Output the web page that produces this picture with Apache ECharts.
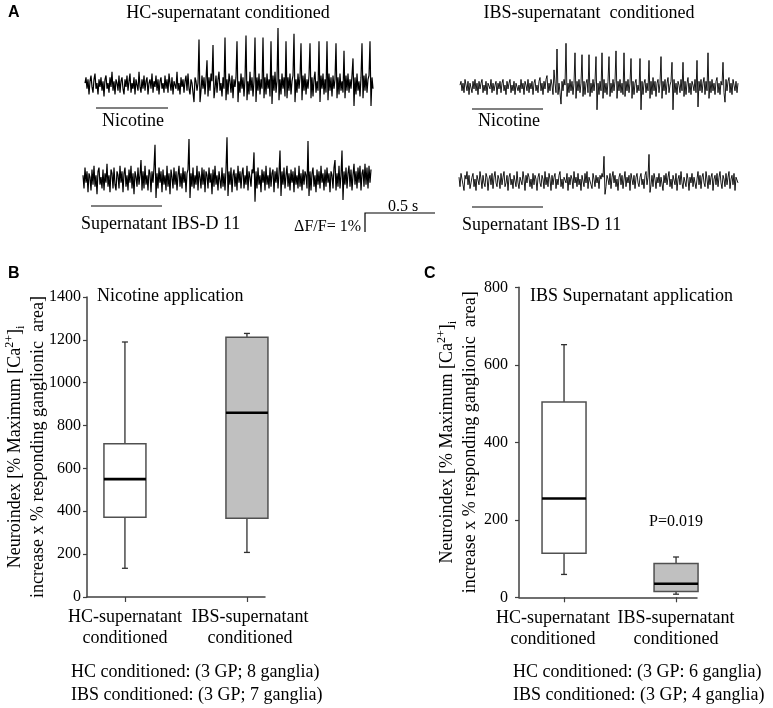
<!DOCTYPE html>
<html><head><meta charset="utf-8">
<script src="https://cdn.jsdelivr.net/npm/echarts@6/dist/echarts.min.js"></script>
<style>html,body{margin:0;padding:0;background:#fff}#c{width:773px;height:708px}</style>
</head><body><div id="c"></div>
<script>
// ---------- Panel A: calcium traces (% dF/F, one value per sample) ----------
const traceHcNicotine = [
 0.1,0.4,-0.2,0.3,-0.5,0.2,0.5,-0.1,-0.4,0.3,0.6,-0.2,0.1,-0.5,0.3,-0.1,0.4,-0.3,0.2,-0.6,
 0.3,0.5,-0.2,0.1,-0.4,0.4,-0.1,0.7,-0.3,0.2,-0.5,0.3,0.1,-0.3,0.5,-0.4,0.2,0.4,-0.2,-0.5,
 0.3,-0.1,0.5,-0.3,0.2,0.6,-0.4,0.1,-0.2,0.4,-0.5,0.3,0.2,-0.3,0.7,-0.1,-0.4,0.3,-0.2,0.5,
 -0.3,0.2,0.4,-0.5,0.1,0.3,-0.2,0.6,-0.4,0.2,-0.1,0.5,-0.3,0.3,-0.5,0.2,0.4,-0.2,0.1,-0.4,
 0.5,-0.2,0.3,-0.4,0.6,0.1,-0.3,0.4,-0.5,0.2,0.3,-0.2,0.7,-0.3,0.1,-0.5,0.4,-0.1,0.3,-0.4,
 0.2,0.5,-0.3,0.6,-0.2,-0.5,0.3,0.1,-0.4,-0.9,0.4,0.2,-0.3,0.1,2.4,-0.9,-0.3,0.5,-0.2,0.4,
 -0.5,0.3,1.3,-0.6,0.4,-0.3,0.6,0.2,2.1,-0.7,-0.2,0.5,-0.4,0.3,0.7,-0.3,0.1,-0.6,0.4,-0.2,
 2.5,-0.8,0.3,-0.5,0.6,0.2,-0.4,0.5,-0.7,0.3,-0.1,0.4,2.3,-0.9,0.2,-0.4,0.6,-0.2,0.4,-0.6,
 0.3,2.6,-0.8,0.2,-0.5,0.7,-0.3,0.4,-0.6,0.2,2.5,-0.9,0.4,-0.3,0.6,-0.5,0.3,-0.2,2.5,-0.7,
 0.4,-0.5,0.6,-0.2,0.3,-0.6,2.3,-1.0,0.5,-0.3,0.7,-0.4,0.2,3.0,-0.8,0.3,-0.5,0.6,-0.2,0.4,
 -0.6,2.3,-0.7,0.4,-0.3,0.6,-0.5,0.2,0.5,2.7,-0.9,0.3,-0.4,0.6,-0.2,0.4,2.2,-0.8,0.5,-0.3,
 0.6,-0.5,0.3,-0.2,0.5,2.2,-0.7,0.4,-0.6,0.3,0.7,-0.4,0.2,-0.3,2.3,-0.9,0.5,-0.2,0.6,-0.5,
 0.3,-0.4,2.3,-0.8,0.6,-0.3,0.4,-0.6,0.5,-0.2,0.3,2.2,-0.7,0.4,-0.5,0.6,-0.3,0.2,-0.4,1.8,
 -0.7,0.5,-0.3,0.6,-0.4,0.3,-0.2,0.5,1.4,-1.1,0.4,-0.5,0.6,-0.3,0.2,-0.6,0.4,2.2,-0.7,0.5,
 -0.3,0.6,-0.4,0.3,0.5,2.3,-1.1,0.4,-0.2
];
const traceHcSupernatant = [
 0.2,-0.5,0.6,-0.2,0.4,-0.7,0.3,0.1,-0.6,0.5,-0.3,0.7,-0.4,0.2,-0.8,0.4,0.6,-0.3,0.1,-0.5,
 0.5,-0.6,0.3,-0.2,0.8,-0.4,0.2,-0.7,0.5,0.3,-0.5,0.6,-0.3,-0.6,0.4,0.2,-0.5,0.7,-0.2,0.4,
 -0.7,0.3,0.6,-0.4,0.2,-0.6,0.5,-0.2,0.7,-0.5,0.3,-0.8,0.4,0.1,-0.4,0.6,-0.3,0.2,1.0,-0.6,
 0.4,-0.5,0.7,-0.3,0.2,-0.6,0.5,0.3,-0.7,0.4,-0.2,0.6,1.8,-1.0,0.3,-0.5,0.6,-0.2,0.4,-0.7,
 0.5,-0.3,0.2,-0.6,0.7,-0.4,0.3,-0.8,0.5,0.1,-0.5,0.6,-0.3,0.4,-0.6,0.2,0.7,-0.4,0.3,-0.5,
 0.6,-0.2,0.4,-0.7,0.3,0.5,2.1,-1.0,0.3,-0.4,0.6,-0.5,0.2,-0.3,0.7,-0.6,0.4,0.1,-0.5,0.6,
 -0.3,0.5,-0.7,0.4,0.2,-0.5,0.6,-0.2,0.3,-0.8,0.5,-0.4,0.7,-0.3,0.2,-0.6,0.4,0.3,-0.5,0.6,
 -0.4,0.3,-0.6,0.5,2.2,-0.9,0.4,-0.3,0.6,-0.7,0.2,0.5,-0.4,0.3,-0.6,0.7,-0.2,0.4,-0.5,0.3,
 0.6,-0.5,0.2,-0.3,0.7,-0.6,0.4,0.1,-0.4,0.5,0.3,1.4,-1.2,0.4,-0.5,0.6,-0.3,0.2,-0.7,0.5,
 -0.2,0.4,-0.6,0.7,-0.3,0.2,-0.5,0.6,-0.4,0.3,0.5,-0.7,0.4,-0.2,0.6,-0.5,0.3,1.5,-0.9,0.4,
 -0.3,0.6,-0.5,0.2,0.7,-0.4,0.3,-0.6,0.5,-0.2,0.4,-0.7,0.6,-0.3,0.2,-0.5,0.7,-0.4,0.3,-0.6,
 0.5,-0.3,0.4,0.2,-0.5,2.0,-0.9,0.4,-0.6,0.3,0.6,-0.4,0.2,-0.7,0.5,-0.3,0.4,-0.5,0.7,-0.2,
 0.3,-0.6,0.5,-0.4,0.6,-0.2,0.3,-0.7,0.4,0.2,-0.5,0.6,1.0,-0.6,0.3,-0.4,0.7,-0.5,0.2,1.5,
 -1.1,0.4,-0.3,0.6,-0.5,0.3,0.7,-0.4,0.5,-0.6,0.2,0.8,-0.3,0.4,-0.5,0.6,-0.2,0.7,-0.6,0.3,
 0.5,-0.4,0.8,-0.3,0.6,-0.5,0.7,-0.2,0.5
];
const traceIbsNicotine = [
 0.1,0.3,-0.2,0.2,-0.3,0.4,0.1,-0.2,0.3,-0.4,0.2,0.1,-0.3,0.3,-0.1,0.4,-0.2,0.2,-0.4,0.3,
 -0.1,0.2,0.4,-0.3,0.1,-0.2,0.3,-0.4,0.2,0.3,-0.1,0.4,-0.3,0.2,-0.2,0.1,0.3,-0.4,0.2,-0.1,
 0.3,-0.3,0.2,0.4,-0.2,0.1,-0.4,0.3,-0.1,0.2,0.4,-0.3,0.1,-0.2,0.3,-0.4,0.2,0.3,-0.2,0.1,
 -0.3,0.4,-0.1,0.2,-0.4,0.3,0.1,-0.2,0.4,-0.3,0.2,-0.1,0.3,-0.4,0.2,0.4,-0.2,0.1,-0.3,0.3,
 0.5,-0.2,0.2,-0.4,0.3,-0.1,0.4,0.6,-0.3,0.2,-0.2,0.4,0.1,-0.4,0.9,0.2,-0.3,2.0,-0.4,0.2,
 -0.3,-0.9,0.3,-0.2,0.4,0.1,2.3,-0.5,0.2,-0.3,0.4,-0.2,0.3,-0.4,0.2,1.8,-0.6,0.3,-0.2,0.4,
 -0.3,0.2,1.7,-0.5,0.3,-0.4,0.2,0.4,-0.3,1.7,-0.5,0.2,-0.3,0.4,-0.2,0.3,1.6,-1.2,0.2,-0.4,
 0.3,-0.2,1.8,-0.6,0.4,-0.3,0.2,-0.4,0.3,1.6,-0.5,0.2,-0.3,0.4,-0.2,0.3,1.9,-0.6,0.3,-0.2,
 0.4,-0.3,0.2,-0.4,1.8,-0.5,0.3,-0.2,0.4,-0.3,0.2,1.5,-0.6,0.3,-0.4,0.2,0.4,-0.3,0.1,-0.2,
 1.5,-1.2,0.3,-0.4,0.2,0.4,-0.3,0.2,-0.2,1.4,-0.6,0.3,-0.4,0.5,-0.2,0.3,-0.5,0.2,0.4,-0.3,
 0.2,1.6,-0.6,0.3,-0.2,0.4,-0.4,0.2,0.5,-0.3,0.1,0.3,1.3,-1.2,0.4,-0.3,0.2,-0.4,0.3,0.1,
 -0.3,0.4,-0.2,1.3,-0.5,0.3,-0.4,0.2,0.5,-0.3,0.2,-0.4,0.3,0.1,-0.2,0.4,-0.3,1.4,-1.05,0.3,
 -0.2,0.4,-0.3,0.2,0.5,-0.4,0.3,-0.2,1.8,-0.6,0.3,-0.3,0.4,-0.2,0.2,-0.4,0.3,0.5,-0.3,0.2,
 -0.4,0.3,0.1,1.3,-0.3,-0.8,0.4,-0.2,0.3,0.5,-0.3,0.2,-0.4,0.4,0.1,-0.2,0.3,-0.3,0.2
];
const traceIbsSupernatant = [
 0.2,-0.3,0.4,0.1,-0.2,-0.5,0.3,0.1,0.5,-0.2,0.3,-0.4,-0.1,0.2,0.4,-0.3,0.1,-0.5,0.3,0.2,
 -0.2,0.5,0.1,-0.4,0.3,-0.1,-0.3,0.4,0.2,-0.5,0.1,0.3,-0.2,0.4,-0.4,0.2,0.5,-0.1,-0.3,0.3,
 0.1,-0.4,0.4,-0.2,0.2,0.5,-0.3,-0.1,0.3,-0.5,0.2,0.4,-0.2,0.1,-0.4,0.3,0.2,-0.3,0.5,-0.1,
 -0.4,0.2,0.3,-0.2,0.5,0.1,-0.5,0.3,-0.1,0.4,0.2,-0.3,0.1,-0.4,0.4,-0.2,0.3,0.1,-0.5,0.2,
 0.4,-0.1,-0.3,0.3,0.1,-0.4,0.5,-0.2,0.2,-0.3,0.4,0.1,-0.5,0.3,-0.2,0.2,0.4,-0.4,0.1,-0.2,
 0.3,0.5,-0.3,0.1,-0.4,0.2,0.3,-0.1,0.4,-0.5,0.2,-0.2,0.3,0.1,-0.4,0.5,-0.1,0.2,-0.3,0.4,
 -0.2,0.1,-0.5,0.3,0.2,-0.3,0.4,-0.1,0.5,-0.4,0.2,0.3,-0.2,-0.4,0.4,0.1,-0.3,0.3,-0.1,0.2,
 -0.4,0.3,0.1,0.4,0.2,1.3,-0.7,-0.3,0.3,0.1,-0.2,0.4,-0.4,0.2,0.5,-0.1,0.3,-0.3,0.1,-0.5,
 0.2,0.4,-0.2,0.3,-0.4,0.1,0.5,-0.3,0.2,-0.1,0.3,-0.5,0.4,0.1,-0.2,0.3,-0.4,0.2,0.4,-0.1,
 -0.3,0.2,0.4,-0.2,0.1,-0.4,0.3,0.5,-0.2,0.2,1.4,-0.6,-0.2,0.3,-0.3,0.4,0.1,-0.4,0.2,-0.1,
 0.4,-0.3,0.2,0.1,-0.5,0.3,-0.1,0.4,-0.2,0.2,0.5,-0.3,0.1,-0.4,0.3,0.2,-0.2,0.4,-0.5,0.1,
 0.3,-0.2,0.5,-0.1,-0.4,0.2,0.3,-0.3,0.4,0.1,-0.5,0.2,-0.1,0.4,-0.3,0.2,0.3,-0.4,0.1,0.5,
 -0.2,0.3,-0.4,0.2,0.4,-0.1,-0.3,0.5,0.1,-0.4,0.3,-0.2,0.2,0.4,-0.5,0.1,0.3,-0.2,0.4,-0.3,
 0.2,0.5,-0.1,-0.4,0.3,0.1,-0.3,0.4,-0.2,0.2,0.5,-0.4,0.1,0.3,-0.2,0.4,-0.5,0.2,0.3,-0.1
];
// stimulus application windows (sample index start, end)
const stimHcNicotine = [11, 83];
const stimHcSupernatant = [8, 79];
const stimIbsNicotine = [12, 83];
const stimIbsSupernatant = [13, 84];

// ---------- Panel B / C: box plots ----------
const categories = ['HC-supernatant\nconditioned', 'IBS-supernatant\nconditioned'];
const yTicksB = [0, 200, 400, 600, 800, 1000, 1200, 1400];
const nicMin = [134, 208];
const nicQ1 = [372, 367];
const nicMedian = [550, 860];
const nicQ3 = [715, 1212];
const nicMax = [1190, 1230];
const yTicksC = [0, 200, 400, 600, 800];
const ibsMin = [59, 8];
const ibsQ1 = [114, 15];
const ibsMedian = [255, 35];
const ibsQ3 = [504, 87];
const ibsMax = [652, 104];

const SERIF = 'Liberation Serif';
const SANS = 'Liberation Sans';
const chart = echarts.init(document.getElementById('c'));

const PX_PER_PCT = 19;
const traces = [
  {data: traceHcNicotine, stim: stimHcNicotine, left: 85, base: 85, stimDrop: 23, lw: 1.2},
  {data: traceHcSupernatant, stim: stimHcSupernatant, left: 83, base: 179, stimDrop: 27, lw: 1.2},
  {data: traceIbsNicotine, stim: stimIbsNicotine, left: 460, base: 87, stimDrop: 22, lw: 0.9},
  {data: traceIbsSupernatant, stim: stimIbsSupernatant, left: 459, base: 181, stimDrop: 26, lw: 0.9}
];
const Y_MIN = -1.5, Y_MAX = 3.5;
const grids = [], xAxes = [], yAxes = [], series = [];
traces.forEach((t, i) => {
  const n = t.data.length;
  grids.push({left: t.left, top: t.base - Y_MAX * PX_PER_PCT, width: n - 1, height: (Y_MAX - Y_MIN) * PX_PER_PCT});
  xAxes.push({gridIndex: i, type: 'value', min: 0, max: n - 1, show: false});
  yAxes.push({gridIndex: i, type: 'value', min: Y_MIN, max: Y_MAX, show: false});
  const sy = -t.stimDrop / PX_PER_PCT;
  series.push({
    type: 'line', xAxisIndex: i, yAxisIndex: i, silent: true,
    showSymbol: false, symbol: 'none',
    lineStyle: {color: '#000', width: t.lw},
    data: t.data.map((v, k) => [k, v]),
    markLine: {
      silent: true, symbol: ['none', 'none'], label: {show: false},
      lineStyle: {color: '#808080', width: 2, type: 'solid'},
      data: [[{coord: [t.stim[0], sy]}, {coord: [t.stim[1], sy]}]]
    }
  });
});

function boxAxes(gi, left, top, height, xmin, xmax, ymax, nameGap) {
  grids.push({left: left, top: top, width: 178, height: height});
  xAxes.push({
    gridIndex: gi, type: 'value', min: xmin, max: xmax, position: 'bottom',
    axisLine: {show: true, onZero: false, lineStyle: {color: '#404040', width: 1.5}},
    axisTick: {show: true, customValues: [1, 2], length: 5, lineStyle: {color: '#404040', width: 1.2}},
    axisLabel: {show: false},
    splitLine: {show: false}
  });
  yAxes.push({
    gridIndex: gi, type: 'value', min: 0, max: ymax, interval: 200,
    axisLine: {show: true, onZero: false, lineStyle: {color: '#404040', width: 1.5}},
    axisTick: {show: true, length: 4, lineStyle: {color: '#404040', width: 1.2}},
    axisLabel: {show: false},
    splitLine: {show: false},
    name: '{t|Neuroindex [% Maximum [Ca}{sup|2+}{t|]}{sub|i}\n{t|increase x % responding ganglionic  area]}',
    nameLocation: 'middle', nameRotate: 90, nameGap: nameGap,
    nameTextStyle: {
      fontFamily: SERIF, fontSize: 18, color: '#000', lineHeight: 23,
      rich: {
        t: {fontFamily: SERIF, fontSize: 18, color: '#000', lineHeight: 23},
        sup: {fontFamily: SERIF, fontSize: 12, color: '#000', lineHeight: 23, verticalAlign: 'top', padding: [0, 0, 6, 0]},
        sub: {fontFamily: SERIF, fontSize: 12, color: '#000', lineHeight: 23, verticalAlign: 'bottom', padding: [6, 0, 0, 0]}
      }
    }
  });
}
boxAxes(4, 87, 297, 300, 0.689, 2.148, 1400, 37);
boxAxes(5, 519, 287.3, 310, 0.598, 2.187, 800, 37);

function boxSeries(gi, mins, q1, med, q3, maxs, boxW) {
  const fills = ['#ffffff', '#c0c0c0'];
  return {
    type: 'custom', xAxisIndex: gi, yAxisIndex: gi, silent: true,
    data: mins.map((m, i) => [i + 1, m, q1[i], med[i], q3[i], maxs[i]]),
    encode: {x: 0, y: [1, 2, 3, 4, 5]},
    renderItem: (params, api) => {
      const x = api.value(0);
      const pMin = api.coord([x, api.value(1)]);
      const pQ1 = api.coord([x, api.value(2)]);
      const pMed = api.coord([x, api.value(3)]);
      const pQ3 = api.coord([x, api.value(4)]);
      const pMax = api.coord([x, api.value(5)]);
      const cx = pMed[0], h = boxW / 2;
      const wStyle = {stroke: '#303030', lineWidth: 1.3};
      return {type: 'group', children: [
        {type: 'line', shape: {x1: cx, y1: pQ3[1], x2: cx, y2: pMax[1]}, style: wStyle},
        {type: 'line', shape: {x1: cx, y1: pQ1[1], x2: cx, y2: pMin[1]}, style: wStyle},
        {type: 'line', shape: {x1: cx - 3, y1: pMax[1], x2: cx + 3, y2: pMax[1]}, style: wStyle},
        {type: 'line', shape: {x1: cx - 3, y1: pMin[1], x2: cx + 3, y2: pMin[1]}, style: wStyle},
        {type: 'rect', shape: {x: cx - h, y: pQ3[1], width: boxW, height: pQ1[1] - pQ3[1]},
          style: {fill: fills[params.dataIndex], stroke: '#505050', lineWidth: 1.5}},
        {type: 'line', shape: {x1: cx - h, y1: pMed[1], x2: cx + h, y2: pMed[1]}, style: {stroke: '#000', lineWidth: 2.6}}
      ]};
    }
  };
}
// y tick labels placed through the axis scale
function tickLabelSeries(gi, ticks, xmin, gap) {
  return {
    type: 'custom', xAxisIndex: gi, yAxisIndex: gi, silent: true, clip: false,
    data: ticks.map(v => [xmin, v]), encode: {x: 0, y: 1},
    renderItem: (params, api) => {
      const p = api.coord([api.value(0), api.value(1)]);
      return {type: 'text', x: p[0] - gap, y: p[1], silent: true, style: {
        text: String(api.value(1)), fill: '#000', font: '16px "' + SERIF + '"',
        align: 'right', verticalAlign: 'middle', textAlign: 'right', textVerticalAlign: 'middle'
      }};
    }
  };
}
// category labels under the x ticks
function catLabelSeries(gi, shifts) {
  return {
    type: 'custom', xAxisIndex: gi, yAxisIndex: gi, silent: true, clip: false,
    data: categories.map((c, i) => [i + 1, 0]), encode: {x: 0, y: 1},
    renderItem: (params, api) => {
      const p = api.coord([api.value(0), api.value(1)]);
      return {type: 'text', x: p[0] + shifts[params.dataIndex], y: p[1] + 10, silent: true, style: {
        text: categories[params.dataIndex], fill: '#000', font: '18px "' + SERIF + '"', lineHeight: 21,
        align: 'center', verticalAlign: 'top', textAlign: 'center', textVerticalAlign: 'top'
      }};
    }
  };
}
series.push(boxSeries(4, nicMin, nicQ1, nicMedian, nicQ3, nicMax, 42));
series.push(boxSeries(5, ibsMin, ibsQ1, ibsMedian, ibsQ3, ibsMax, 44));
series.push(tickLabelSeries(4, yTicksB, 0.689, 6));
series.push(tickLabelSeries(5, yTicksC, 0.598, 11));
series.push(catLabelSeries(4, [0, 3]));
series.push(catLabelSeries(5, [-11, 0]));

function txt(text, x, y, opt) {
  opt = opt || {};
  return {type: 'text', x: x, y: y, silent: true, style: {
    text: text, fill: '#000',
    font: (opt.bold ? 'bold ' : '') + (opt.size || 18) + 'px "' + (opt.family || SERIF) + '"',
    textAlign: opt.align || 'left', textVerticalAlign: 'middle'
  }};
}
const graphics = [
  txt('A', 8, 13, {bold: true, size: 16, family: SANS}),
  txt('B', 8, 274, {bold: true, size: 16, family: SANS}),
  txt('C', 424, 274, {bold: true, size: 16, family: SANS}),
  txt('HC-supernatant conditioned', 228, 13, {align: 'center'}),
  txt('IBS-supernatant  conditioned', 589, 13, {align: 'center'}),
  txt('Nicotine', 133, 121, {align: 'center'}),
  txt('Nicotine', 509, 121, {align: 'center'}),
  txt('Supernatant IBS-D 11', 81, 224),
  txt('Supernatant IBS-D 11', 462, 225),
  txt('\u0394F/F= 1%', 361, 227, {align: 'right', size: 16}),
  txt('0.5 s', 403, 207, {align: 'center', size: 16}),
  {type: 'polyline', silent: true, shape: {points: [[365, 232], [365, 213], [435, 213]]},
    style: {stroke: '#000', lineWidth: 1.2, fill: null}},
  txt('Nicotine application', 97, 296),
  txt('IBS Supernatant application', 530, 296),
  txt('P=0.019', 676, 522, {align: 'center', size: 16}),
  txt('HC conditioned: (3 GP; 8 ganglia)', 71, 672),
  txt('IBS conditioned: (3 GP; 7 ganglia)', 71, 695),
  txt('HC conditioned: (3 GP: 6 ganglia)', 513, 672),
  txt('IBS conditioned: (3 GP; 4 ganglia)', 513, 695)
];

chart.setOption({
  animation: false,
  backgroundColor: '#fff',
  textStyle: {fontFamily: SERIF},
  grid: grids, xAxis: xAxes, yAxis: yAxes, series: series,
  graphic: graphics
});
</script></body></html>
